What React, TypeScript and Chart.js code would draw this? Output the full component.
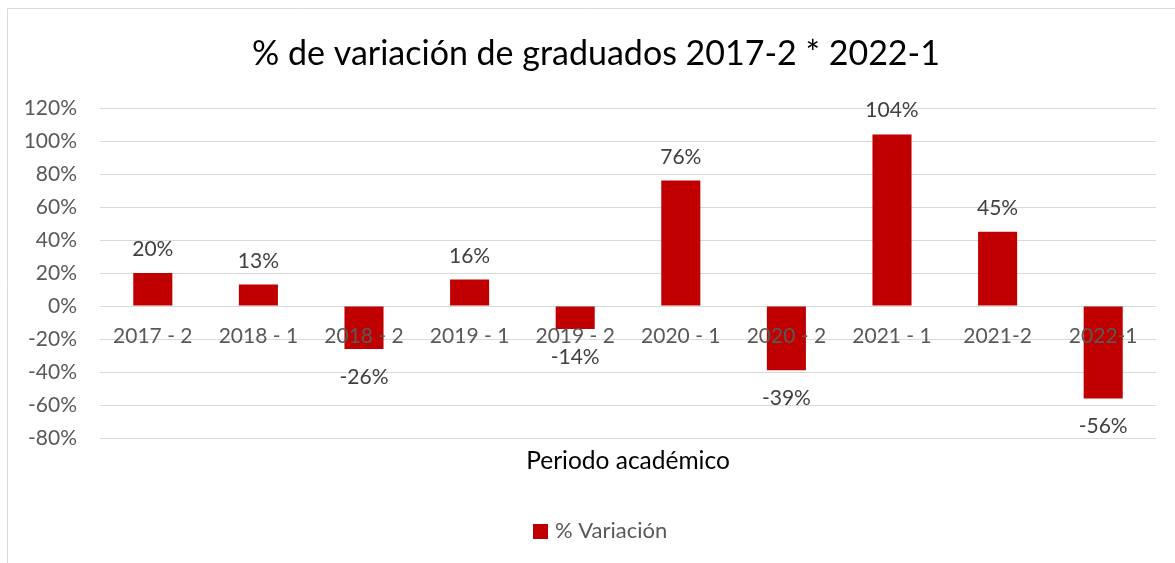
import React, { useEffect, useRef } from "react";
import { Chart, registerables } from "chart.js";

Chart.register(...registerables);

const categories = [
  "2017 - 2",
  "2018 - 1",
  "2018 - 2",
  "2019 - 1",
  "2019 - 2",
  "2020 - 1",
  "2020 - 2",
  "2021 - 1",
  "2021-2",
  "2022-1",
];
const variation = [20, 13, -26, 16, -14, 76, -39, 104, 45, -56];
const yMin = -80;
const yMax = 120;
const yStep = 20;
const titleText = "% de variación de graduados 2017-2 * 2022-1";
const xAxisTitle = "Periodo académico";
const seriesName = "% Variación";

const FONT = "Lato, 'Open Sans', sans-serif";
const BAR_COLOR = "#C00000";
const GRID_COLOR = "#d9d9d9";
const TICK_COLOR = "#595959";

const decorPlugin = {
  id: "decor",
  beforeDraw(chart: any) {
    const ctx = chart.ctx;
    ctx.save();
    ctx.strokeStyle = GRID_COLOR;
    ctx.lineWidth = 1;
    ctx.beginPath();
    ctx.moveTo(7.5, chart.height);
    ctx.lineTo(7.5, 8.5);
    ctx.lineTo(chart.width, 8.5);
    ctx.stroke();
    ctx.restore();
  },
  afterDatasetsDraw(chart: any) {
    const ctx = chart.ctx;
    const meta = chart.getDatasetMeta(0);
    const data = chart.data.datasets[0].data as number[];
    ctx.save();
    ctx.font = `21px ${FONT}`;
    ctx.fillStyle = "#404040";
    ctx.textAlign = "center";
    ctx.textBaseline = "alphabetic";
    meta.data.forEach((bar: any, i: number) => {
      const v = data[i];
      const label = `${v}%`;
      if (v >= 0) {
        ctx.fillText(label, bar.x, bar.y - 17);
      } else {
        ctx.fillText(label, bar.x, bar.y + 35);
      }
    });
    ctx.restore();
  },
  afterDraw(chart: any) {
    const ctx = chart.ctx;
    const area = chart.chartArea;
    ctx.save();
    // title
    ctx.fillStyle = "#000000";
    ctx.textAlign = "center";
    ctx.textBaseline = "alphabetic";
    ctx.font = `34px ${FONT}`;
    ctx.fillText(titleText, 596, 65);
    // x axis title
    ctx.font = `24.5px ${FONT}`;
    ctx.fillText(xAxisTitle, (area.left + area.right) / 2, 469);
    // legend
    ctx.fillStyle = BAR_COLOR;
    ctx.fillRect(533, 524, 15, 15);
    ctx.fillStyle = TICK_COLOR;
    ctx.textAlign = "left";
    ctx.font = `22px ${FONT}`;
    ctx.fillText(seriesName, 555, 538);
    ctx.restore();
  },
};

export default function App() {
  const canvasRef = useRef<HTMLCanvasElement | null>(null);

  useEffect(() => {
    const canvas = canvasRef.current;
    if (!canvas) return;
    const chart = new Chart(canvas, {
      type: "bar",
      data: {
        labels: categories,
        datasets: [
          {
            label: seriesName,
            data: variation,
            backgroundColor: BAR_COLOR,
            borderWidth: 0,
            barPercentage: 0.37,
            categoryPercentage: 1,
          },
        ],
      },
      options: {
        responsive: false,
        animation: false,
        layout: { padding: { left: 0, top: 108, right: 19, bottom: 125 } },
        plugins: {
          legend: { display: false },
          title: { display: false },
          tooltip: { enabled: false },
        },
        scales: {
          x: {
            type: "category",
            position: { y: 0 } as any,
            grid: { display: false, drawTicks: false },
            border: { display: false },
            ticks: {
              z: 1,
              color: TICK_COLOR,
              font: { family: FONT, size: 21 },
              padding: 18,
              maxRotation: 0,
              autoSkip: false,
            },
            afterFit: (s: any) => {
              s.height = 0;
            },
          },
          y: {
            position: "left",
            min: yMin,
            max: yMax,
            grid: { color: GRID_COLOR, lineWidth: 1, drawTicks: false },
            border: { display: false },
            ticks: {
              stepSize: yStep,
              color: TICK_COLOR,
              font: { family: FONT, size: 21 },
              padding: 23,
              callback: (v: any) => `${v}%`,
            },
            afterFit: (s: any) => {
              s.width = 100;
            },
          },
        },
      },
      plugins: [decorPlugin],
    });
    return () => chart.destroy();
  }, []);

  return (
    <canvas
      ref={canvasRef}
      width={1175}
      height={563}
      style={{ position: "fixed", left: 0, top: 0, display: "block", background: "#fff" }}
    />
  );
}
